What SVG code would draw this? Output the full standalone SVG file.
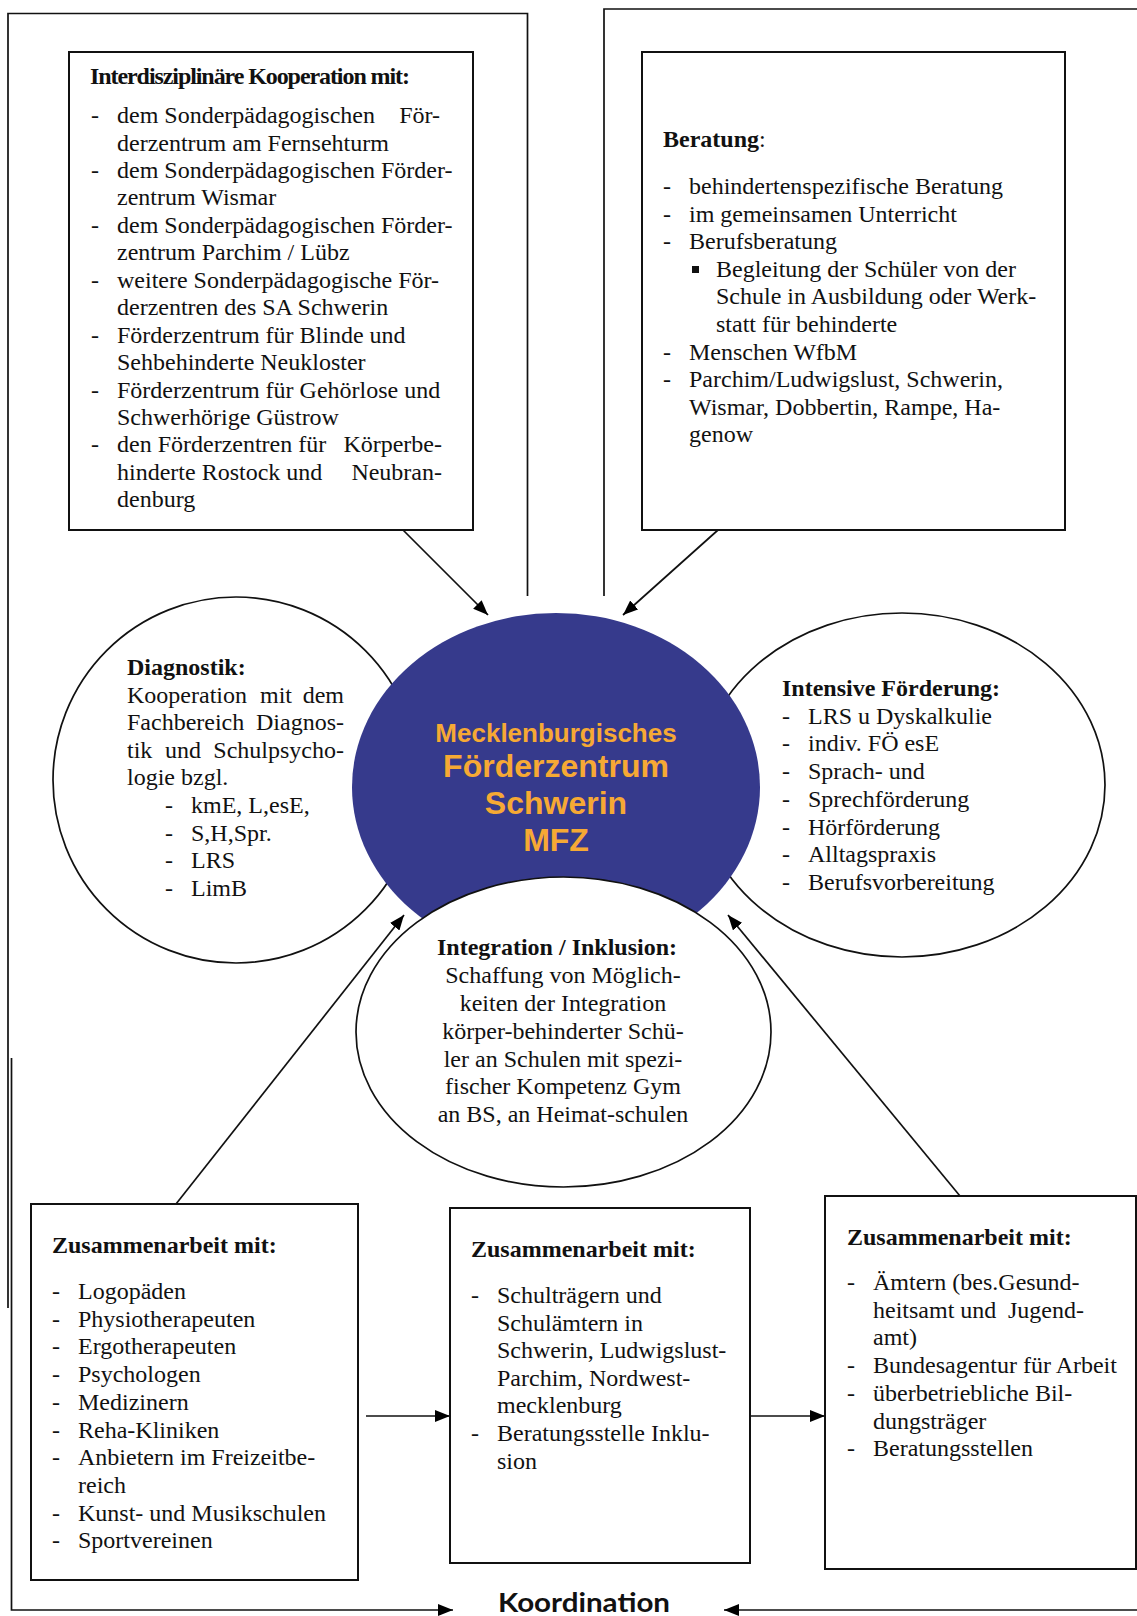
<svg xmlns="http://www.w3.org/2000/svg" width="1137" height="1616" viewBox="0 0 1137 1616">
<defs>
<marker id="ah" markerUnits="userSpaceOnUse" markerWidth="15" markerHeight="12" refX="15" refY="6" orient="auto">
<path d="M0,0 L15,6 L0,12 z" fill="#000"/>
</marker>
<style>
.t{font-family:"Liberation Serif","Times New Roman",serif;font-size:24px;fill:#111}
.b{font-weight:bold}
.e{text-anchor:end}
.m{text-anchor:middle}
.box{fill:#fff;stroke:#111;stroke-width:2}
.ell{fill:#fff;stroke:#111;stroke-width:1.7}
.con{fill:none;stroke:#111;stroke-width:1.7}
.ctr{font-family:"Liberation Sans",Arial,sans-serif;font-weight:bold;fill:#F6A934;text-anchor:middle}
</style>
</defs>
<rect width="1137" height="1616" fill="#fff"/>

<g id="connectors">
<path class="con" d="M8,1308 V13.5 H527.5 V596"/>
<path class="con" d="M604,596 V9 H1137"/>
<line class="con" x1="403" y1="530" x2="488" y2="615" marker-end="url(#ah)"/>
<line class="con" x1="718" y1="530" x2="623" y2="615" marker-end="url(#ah)"/>
<line class="con" x1="176" y1="1204" x2="404" y2="915" marker-end="url(#ah)"/>
<line class="con" x1="960" y1="1196" x2="728" y2="915" marker-end="url(#ah)"/>
<line class="con" x1="366" y1="1416" x2="450" y2="1416" marker-end="url(#ah)"/>
<line class="con" x1="750" y1="1416" x2="825" y2="1416" marker-end="url(#ah)"/>
<path class="con" d="M11.5,1058 V1610 H453" marker-end="url(#ah)"/>
<path class="con" d="M1137,1610 H724" marker-end="url(#ah)"/>
</g>

<g id="kooperation">
<rect class="box" x="69" y="52" width="404" height="478"/>
<text class="t b" x="90" y="84" textLength="320" lengthAdjust="spacing">Interdisziplinäre Kooperation mit:</text>
<text class="t" x="91" y="123">-</text>
<text class="t" x="117" y="123">dem Sonderpädagogischen</text>
<text class="t e" x="440" y="123">För-</text>
<text class="t" x="117" y="150.5">derzentrum am Fernsehturm</text>
<text class="t" x="91" y="178">-</text>
<text class="t" x="117" y="178">dem Sonderpädagogischen Förder-</text>
<text class="t" x="117" y="205.4">zentrum Wismar</text>
<text class="t" x="91" y="232.8">-</text>
<text class="t" x="117" y="232.8">dem Sonderpädagogischen Förder-</text>
<text class="t" x="117" y="260.3">zentrum Parchim / Lübz</text>
<text class="t" x="91" y="287.7">-</text>
<text class="t" x="117" y="287.7">weitere Sonderpädagogische För-</text>
<text class="t" x="117" y="315.2">derzentren des SA Schwerin</text>
<text class="t" x="91" y="342.6">-</text>
<text class="t" x="117" y="342.6">Förderzentrum für Blinde und</text>
<text class="t" x="117" y="370.1">Sehbehinderte Neukloster</text>
<text class="t" x="91" y="397.5">-</text>
<text class="t" x="117" y="397.5">Förderzentrum für Gehörlose und</text>
<text class="t" x="117" y="425">Schwerhörige Güstrow</text>
<text class="t" x="91" y="452.4">-</text>
<text class="t" x="117" y="452.4">den Förderzentren für</text>
<text class="t e" x="442" y="452.4">Körperbe-</text>
<text class="t" x="117" y="479.9">hinderte Rostock und</text>
<text class="t e" x="442" y="479.9">Neubran-</text>
<text class="t" x="117" y="507.3">denburg</text>
</g>

<g id="beratung">
<rect class="box" x="642" y="52" width="423" height="478"/>
<text class="t" x="663" y="147"><tspan class="b">Beratung</tspan>:</text>
<text class="t" x="663" y="194">-</text>
<text class="t" x="689" y="194">behindertenspezifische Beratung</text>
<text class="t" x="663" y="221.6">-</text>
<text class="t" x="689" y="221.6">im gemeinsamen Unterricht</text>
<text class="t" x="663" y="249.2">-</text>
<text class="t" x="689" y="249.2">Berufsberatung</text>
<rect x="692" y="266" width="7" height="7" fill="#111"/>
<text class="t" x="716" y="276.8">Begleitung der Schüler von der</text>
<text class="t" x="716" y="304.4">Schule in Ausbildung oder Werk-</text>
<text class="t" x="716" y="332">statt für behinderte</text>
<text class="t" x="663" y="359.6">-</text>
<text class="t" x="689" y="359.6">Menschen WfbM</text>
<text class="t" x="663" y="387.2">-</text>
<text class="t" x="689" y="387.2">Parchim/Ludwigslust, Schwerin,</text>
<text class="t" x="689" y="414.8">Wismar, Dobbertin, Rampe, Ha-</text>
<text class="t" x="689" y="442.4">genow</text>
</g>

<g id="diagnostik">
<circle class="ell" cx="236" cy="780" r="183"/>
<text class="t b" x="127" y="675">Diagnostik:</text>
<text class="t" x="127" y="702.6">Kooperation</text>
<text class="t" x="260" y="702.6">mit</text>
<text class="t e" x="344" y="702.6">dem</text>
<text class="t" x="127" y="730.2">Fachbereich</text>
<text class="t e" x="344" y="730.2">Diagnos-</text>
<text class="t" x="127" y="757.8">tik</text>
<text class="t" x="165" y="757.8">und</text>
<text class="t e" x="344" y="757.8">Schulpsycho-</text>
<text class="t" x="127" y="785.4">logie bzgl.</text>
<text class="t" x="165" y="813">-</text>
<text class="t" x="191" y="813">kmE, L,esE,</text>
<text class="t" x="165" y="840.6">-</text>
<text class="t" x="191" y="840.6">S,H,Spr.</text>
<text class="t" x="165" y="868.2">-</text>
<text class="t" x="191" y="868.2">LRS</text>
<text class="t" x="165" y="895.8">-</text>
<text class="t" x="191" y="895.8">LimB</text>
</g>

<g id="foerderung">
<ellipse class="ell" cx="902" cy="785" rx="203" ry="172"/>
<text class="t b" x="782" y="696">Intensive Förderung:</text>
<text class="t" x="782" y="723.7">-</text>
<text class="t" x="808" y="723.7">LRS u Dyskalkulie</text>
<text class="t" x="782" y="751.4">-</text>
<text class="t" x="808" y="751.4">indiv. FÖ esE</text>
<text class="t" x="782" y="779.1">-</text>
<text class="t" x="808" y="779.1">Sprach- und</text>
<text class="t" x="782" y="806.8">-</text>
<text class="t" x="808" y="806.8">Sprechförderung</text>
<text class="t" x="782" y="834.5">-</text>
<text class="t" x="808" y="834.5">Hörförderung</text>
<text class="t" x="782" y="862.2">-</text>
<text class="t" x="808" y="862.2">Alltagspraxis</text>
<text class="t" x="782" y="889.9">-</text>
<text class="t" x="808" y="889.9">Berufsvorbereitung</text>
</g>

<g id="mfz">
<ellipse cx="556" cy="787" rx="204" ry="174" fill="#363A8C"/>
<text class="ctr" x="556" y="742" font-size="26">Mecklenburgisches</text>
<text class="ctr" x="556" y="777" font-size="32">Förderzentrum</text>
<text class="ctr" x="556" y="814" font-size="32">Schwerin</text>
<text class="ctr" x="556" y="851" font-size="32">MFZ</text>
</g>

<g id="integration">
<ellipse class="ell" cx="563.5" cy="1032" rx="207.5" ry="155"/>
<text class="t b m" x="557" y="955">Integration / Inklusion:</text>
<text class="t m" x="563" y="983">Schaffung von Möglich-</text>
<text class="t m" x="563" y="1011">keiten der Integration</text>
<text class="t m" x="563" y="1039">körper-behinderter Schü-</text>
<text class="t m" x="563" y="1067">ler an Schulen mit spezi-</text>
<text class="t m" x="563" y="1094">fischer Kompetenz Gym</text>
<text class="t m" x="563" y="1122">an BS, an Heimat-schulen</text>
</g>

<g id="zusammenarbeit1">
<rect class="box" x="31" y="1204" width="327" height="376"/>
<text class="t b" x="52" y="1253">Zusammenarbeit mit:</text>
<text class="t" x="52" y="1299">-</text><text class="t" x="78" y="1299">Logopäden</text>
<text class="t" x="52" y="1326.7">-</text><text class="t" x="78" y="1326.7">Physiotherapeuten</text>
<text class="t" x="52" y="1354.4">-</text><text class="t" x="78" y="1354.4">Ergotherapeuten</text>
<text class="t" x="52" y="1382.1">-</text><text class="t" x="78" y="1382.1">Psychologen</text>
<text class="t" x="52" y="1409.8">-</text><text class="t" x="78" y="1409.8">Medizinern</text>
<text class="t" x="52" y="1437.5">-</text><text class="t" x="78" y="1437.5">Reha-Kliniken</text>
<text class="t" x="52" y="1465.2">-</text><text class="t" x="78" y="1465.2">Anbietern im Freizeitbe-</text>
<text class="t" x="78" y="1492.9">reich</text>
<text class="t" x="52" y="1520.6">-</text><text class="t" x="78" y="1520.6">Kunst- und Musikschulen</text>
<text class="t" x="52" y="1548.3">-</text><text class="t" x="78" y="1548.3">Sportvereinen</text>
</g>

<g id="zusammenarbeit2">
<rect class="box" x="450" y="1208" width="300" height="355"/>
<text class="t b" x="471" y="1257">Zusammenarbeit mit:</text>
<text class="t" x="471" y="1303">-</text><text class="t" x="497" y="1303">Schulträgern und</text>
<text class="t" x="497" y="1330.6">Schulämtern in</text>
<text class="t" x="497" y="1358.2">Schwerin, Ludwigslust-</text>
<text class="t" x="497" y="1385.8">Parchim, Nordwest-</text>
<text class="t" x="497" y="1413.4">mecklenburg</text>
<text class="t" x="471" y="1441">-</text><text class="t" x="497" y="1441">Beratungsstelle Inklu-</text>
<text class="t" x="497" y="1468.6">sion</text>
</g>

<g id="zusammenarbeit3">
<rect class="box" x="825" y="1196" width="311" height="373"/>
<text class="t b" x="847" y="1245">Zusammenarbeit mit:</text>
<text class="t" x="847" y="1290">-</text><text class="t" x="873" y="1290">Ämtern (bes.Gesund-</text>
<text class="t" x="873" y="1317.7">heitsamt und</text><text class="t" x="1008" y="1317.7">Jugend-</text>
<text class="t" x="873" y="1345.4">amt)</text>
<text class="t" x="847" y="1373.1">-</text><text class="t" x="873" y="1373.1">Bundesagentur für Arbeit</text>
<text class="t" x="847" y="1400.8">-</text><text class="t" x="873" y="1400.8">überbetriebliche Bil-</text>
<text class="t" x="873" y="1428.5">dungsträger</text>
<text class="t" x="847" y="1456.2">-</text><text class="t" x="873" y="1456.2">Beratungsstellen</text>
</g>

<g id="koordination">
<text x="498" y="1612" font-family="Lato,'Open Sans',sans-serif" font-weight="bold" font-size="27" fill="#111" textLength="172" lengthAdjust="spacingAndGlyphs">Koordination</text>
</g>
</svg>
